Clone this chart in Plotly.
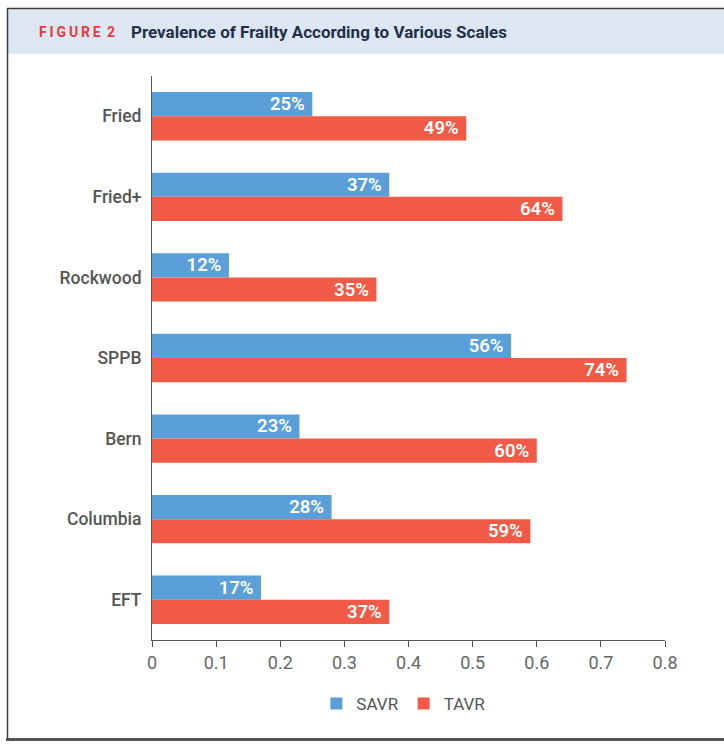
import plotly.graph_objects as go

categories = ["Fried", "Fried+", "Rockwood", "SPPB", "Bern", "Columbia", "EFT"]
savr = [0.25, 0.37, 0.12, 0.56, 0.23, 0.28, 0.17]
tavr = [0.49, 0.64, 0.35, 0.74, 0.60, 0.59, 0.37]
x_ticks = [0, 0.1, 0.2, 0.3, 0.4, 0.5, 0.6, 0.7, 0.8]
x_tick_labels = ["0", "0.1", "0.2", "0.3", "0.4", "0.5", "0.6", "0.7", "0.8"]

SAVR_COLOR = "#5A9FD8"
TAVR_COLOR = "#F15A46"
W, H = 724, 747
L, R, T, B = 152, 59, 76, 107
PW, PH = W - L - R, H - T - B


def px_x(p):
    return (p - L) / PW


def px_y(p):
    return (H - B - p) / PH


def lbl(vals):
    return [f"{round(v * 100)}%\u00a0" for v in vals]


fig = go.Figure()
fig.add_trace(go.Bar(
    name="SAVR", y=categories, x=savr, orientation="h",
    marker=dict(color=SAVR_COLOR, line=dict(width=0)),
    text=lbl(savr), textposition="inside", insidetextanchor="end",
    textfont=dict(color="white", size=18.5, family="Roboto", weight=600),
    constraintext="none", cliponaxis=False,
))
fig.add_trace(go.Bar(
    name="TAVR", y=categories, x=tavr, orientation="h",
    marker=dict(color=TAVR_COLOR, line=dict(width=0)),
    text=lbl(tavr), textposition="inside", insidetextanchor="end",
    textfont=dict(color="white", size=18.5, family="Roboto", weight=600),
    constraintext="none", cliponaxis=False,
))

shapes = [
    # header band
    dict(type="rect", xref="paper", yref="paper",
         x0=px_x(8), x1=px_x(726), y0=px_y(54), y1=px_y(9.5),
         fillcolor="#DDE7F2", line=dict(width=0), layer="below"),
    # top border
    dict(type="line", xref="paper", yref="paper",
         x0=px_x(7), x1=px_x(726), y0=px_y(8.5), y1=px_y(8.5),
         line=dict(color="#3a3a3a", width=1.5)),
    # left border
    dict(type="line", xref="paper", yref="paper",
         x0=px_x(7.5), x1=px_x(7.5), y0=px_y(8), y1=px_y(740),
         line=dict(color="#3a3a3a", width=1.5)),
    # bottom border
    dict(type="line", xref="paper", yref="paper",
         x0=px_x(6), x1=px_x(726), y0=px_y(739.5), y1=px_y(739.5),
         line=dict(color="#555555", width=3)),
]

ts = "\u2009"
fig_label = ts.join(list("FIGURE")) + ts + " 2"

annotations = [
    dict(text=f"<b>{fig_label}</b>", xref="paper", yref="paper",
         x=px_x(37), y=px_y(32), xanchor="left", yanchor="middle",
         showarrow=False,
         font=dict(family="Roboto", size=14, color="#E8383D")),
    dict(text="<b>Prevalence of Frailty According to Various Scales</b>",
         xref="paper", yref="paper",
         x=px_x(129), y=px_y(32), xanchor="left", yanchor="middle",
         showarrow=False,
         font=dict(family="Roboto", size=17, color="#1F2F4A")),
]

fig.update_layout(
    width=W, height=H,
    margin=dict(l=L, r=R, t=T, b=B, pad=0),
    paper_bgcolor="white", plot_bgcolor="white",
    barmode="group", bargap=0.4, bargroupgap=0,
    showlegend=True,
    legend=dict(orientation="h", x=0.49, xanchor="center",
                y=px_y(704), yanchor="middle",
                font=dict(family="Roboto", size=17, color="#555555"),
                itemsizing="constant", traceorder="normal"),
    font=dict(family="Roboto"),
    shapes=shapes, annotations=annotations,
    xaxis=dict(range=[0, 0.8], tickvals=x_ticks, ticktext=x_tick_labels,
               showgrid=False, zeroline=False, showline=True,
               linecolor="#555555", linewidth=1,
               ticks="outside", ticklen=6, tickcolor="#555555",
               tickfont=dict(family="Roboto", size=18, color="#666666")),
    yaxis=dict(autorange="reversed", showgrid=False, zeroline=False,
               showline=True, linecolor="#555555", linewidth=1,
               ticks="", ticklabelstandoff=6,
               tickfont=dict(family="Roboto", size=17.5, color="#555555",
                             weight=500)),
)

fig.write_html("out.html")
